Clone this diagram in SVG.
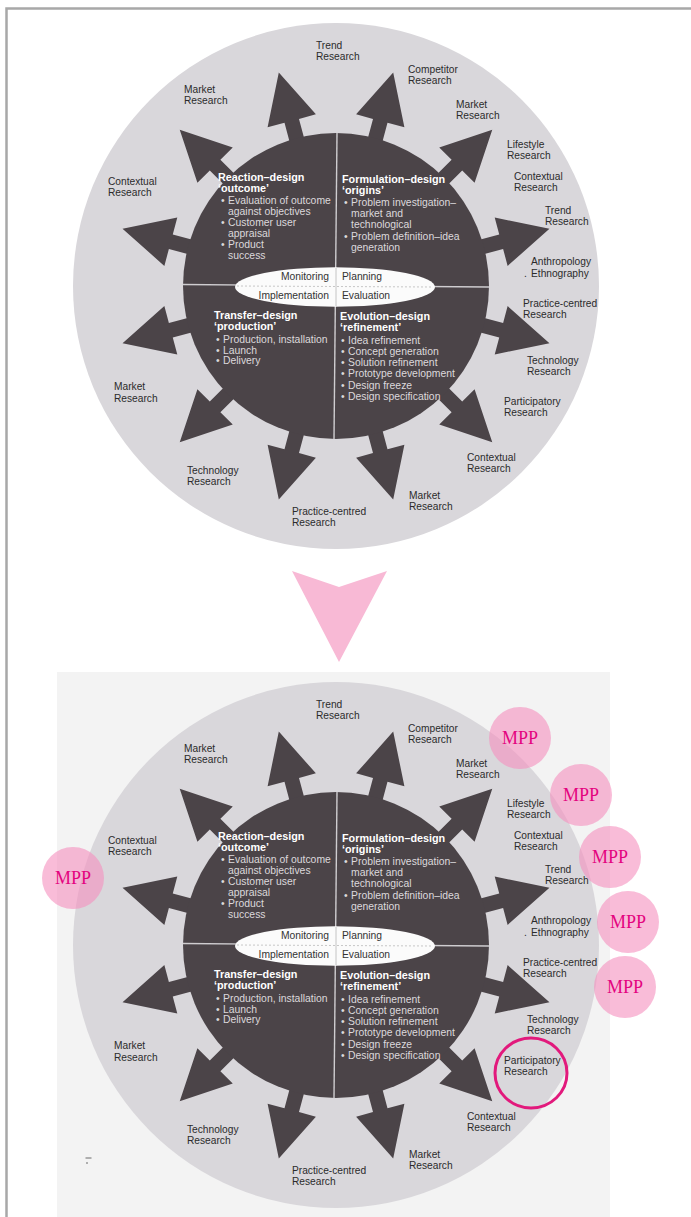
<svg xmlns="http://www.w3.org/2000/svg" xmlns:xlink="http://www.w3.org/1999/xlink" width="691" height="1217" viewBox="0 0 691 1217">
  <style>
    .ring { fill: #d9d7db; }
    .disc { fill: #4b4448; }
    .div { stroke: #cfcdd0; stroke-width: 1.4; fill: none; }
    .lens { fill: #fbfbfb; }
    .lensline { stroke: #b9b9b9; stroke-width: 0.8; stroke-dasharray: 2 2; fill: none; }
    .ttl { font-family: "Liberation Sans", Arial, sans-serif; font-weight: bold; font-size: 10.8px; fill: #ffffff; }
    .bd { font-family: "Liberation Sans", Arial, sans-serif; font-size: 10.4px; fill: #dcd9dc; }
    .mid { font-family: "Liberation Sans", Arial, sans-serif; font-size: 10.3px; fill: #333333; }
    .lbl { font-family: "Liberation Sans", Arial, sans-serif; font-size: 10.2px; fill: #2b2b2b; }
    .mpp circle { fill: #f58fbe; fill-opacity: 0.6; }
    .mpp text { font-family: "Liberation Serif", "Times New Roman", serif; font-size: 18px; fill: #e4047f; text-anchor: middle; }
  </style>
  <defs>
    <!-- one radial arrow, pointing along +x from the wheel centre -->
    <path id="arrow" d="M138,-7.5 H171 V-25 L221,0 L171,25 V7.5 H138 Z" fill="#4b4448"/>
  </defs>

  <rect x="0" y="0" width="691" height="1217" fill="#ffffff"/>
  <g id="frame">
    <path d="M6.5,1217 V8.5 H691" fill="none" stroke="#a8a8a8" stroke-width="2.5"/>
  </g>

  <!-- ===================== upper wheel ===================== -->
  <g id="wheel-top">
    <circle class="ring" cx="336" cy="286" r="263"/>
    <g id="top-arrows">
      <use xlink:href="#arrow" transform="translate(336,286) rotate(-105)"/>
      <use xlink:href="#arrow" transform="translate(336,286) rotate(-135)"/>
      <use xlink:href="#arrow" transform="translate(336,286) rotate(-165)"/>
      <use xlink:href="#arrow" transform="translate(336,286) rotate(165)"/>
      <use xlink:href="#arrow" transform="translate(336,286) rotate(135)"/>
      <use xlink:href="#arrow" transform="translate(336,286) rotate(105)"/>
      <use xlink:href="#arrow" transform="translate(336,286) rotate(75)"/>
      <use xlink:href="#arrow" transform="translate(336,286) rotate(45)"/>
      <use xlink:href="#arrow" transform="translate(336,286) rotate(15)"/>
      <use xlink:href="#arrow" transform="translate(336,286) rotate(-15)"/>
      <use xlink:href="#arrow" transform="translate(336,286) rotate(-45)"/>
      <use xlink:href="#arrow" transform="translate(336,286) rotate(-75)"/>
    </g>
    <circle class="disc" cx="336" cy="286" r="153"/>
    <line class="div" x1="337" y1="133" x2="334" y2="439"/>
    <line class="div" x1="183" y1="284.5" x2="489" y2="287"/>
    <g id="top-hub">
      <ellipse class="lens" cx="335" cy="287" rx="100" ry="19.7"/>
      <line class="lensline" x1="237" y1="286" x2="433" y2="287"/>
      <line x1="336" y1="268" x2="336" y2="306" stroke="#c4c4c4" stroke-width="1"/>
      <text class="mid" x="329" y="280" text-anchor="end">Monitoring</text>
      <text class="mid" x="342" y="280">Planning</text>
      <text class="mid" x="329" y="298.5" text-anchor="end">Implementation</text>
      <text class="mid" x="342" y="298.5">Evaluation</text>
    </g>
    <g id="top-reaction">
      <text class="ttl" x="218" y="180.5">Reaction–design</text>
      <text class="ttl" x="218" y="192">‘outcome’</text>
      <text class="bd" x="221" y="204">•</text><text class="bd" x="228" y="204">Evaluation of outcome</text>
      <text class="bd" x="228" y="215">against objectives</text>
      <text class="bd" x="221" y="226">•</text><text class="bd" x="228" y="226">Customer user</text>
      <text class="bd" x="228" y="237">appraisal</text>
      <text class="bd" x="221" y="248">•</text><text class="bd" x="228" y="248">Product</text>
      <text class="bd" x="228" y="259">success</text>
    </g>
    <g id="top-formulation">
      <text class="ttl" x="342" y="183">Formulation–design</text>
      <text class="ttl" x="342" y="194">‘origins’</text>
      <text class="bd" x="344" y="206">•</text><text class="bd" x="351" y="206">Problem investigation–</text>
      <text class="bd" x="351" y="217">market and</text>
      <text class="bd" x="351" y="228">technological</text>
      <text class="bd" x="344" y="240">•</text><text class="bd" x="351" y="240">Problem definition–idea</text>
      <text class="bd" x="351" y="251">generation</text>
    </g>
    <g id="top-transfer">
      <text class="ttl" x="214" y="319">Transfer–design</text>
      <text class="ttl" x="214" y="330">‘production’</text>
      <text class="bd" x="216" y="343">•</text><text class="bd" x="223" y="343">Production, installation</text>
      <text class="bd" x="216" y="353.5">•</text><text class="bd" x="223" y="353.5">Launch</text>
      <text class="bd" x="216" y="364">•</text><text class="bd" x="223" y="364">Delivery</text>
    </g>
    <g id="top-evolution">
      <text class="ttl" x="340" y="320">Evolution–design</text>
      <text class="ttl" x="340" y="331">‘refinement’</text>
      <text class="bd" x="341" y="344">•</text><text class="bd" x="348" y="344">Idea refinement</text>
      <text class="bd" x="341" y="355">•</text><text class="bd" x="348" y="355">Concept generation</text>
      <text class="bd" x="341" y="366">•</text><text class="bd" x="348" y="366">Solution refinement</text>
      <text class="bd" x="341" y="377">•</text><text class="bd" x="348" y="377">Prototype development</text>
      <text class="bd" x="341" y="389">•</text><text class="bd" x="348" y="389">Design freeze</text>
      <text class="bd" x="341" y="400">•</text><text class="bd" x="348" y="400">Design specification</text>
    </g>
    <g id="top-labels" class="lbl">
      <text class="lbl" x="316" y="48.5">Trend<tspan x="316" dy="11">Research</tspan></text>
      <text class="lbl" x="408" y="72.5">Competitor<tspan x="408" dy="11">Research</tspan></text>
      <text class="lbl" x="456" y="107.5">Market<tspan x="456" dy="11">Research</tspan></text>
      <text class="lbl" x="507" y="147.5">Lifestyle<tspan x="507" dy="11">Research</tspan></text>
      <text class="lbl" x="514" y="180">Contextual<tspan x="514" dy="11">Research</tspan></text>
      <text class="lbl" x="545" y="213.5">Trend<tspan x="545" dy="11">Research</tspan></text>
      <text class="lbl" x="531" y="265">Anthropology<tspan x="524" dy="11.5">.</tspan><tspan x="531">Ethnography</tspan></text>
      <text class="lbl" x="523" y="306.5">Practice-centred<tspan x="523" dy="11">Research</tspan></text>
      <text class="lbl" x="527" y="364">Technology<tspan x="527" dy="11">Research</tspan></text>
      <text class="lbl" x="504" y="404.5">Participatory<tspan x="504" dy="11">Research</tspan></text>
      <text class="lbl" x="467" y="460.5">Contextual<tspan x="467" dy="11">Research</tspan></text>
      <text class="lbl" x="409" y="499">Market<tspan x="409" dy="11">Research</tspan></text>
      <text class="lbl" x="292" y="515">Practice-centred<tspan x="292" dy="11">Research</tspan></text>
      <text class="lbl" x="187" y="474">Technology<tspan x="187" dy="11">Research</tspan></text>
      <text class="lbl" x="114" y="390">Market<tspan x="114" dy="11.5">Research</tspan></text>
      <text class="lbl" x="108" y="184.5">Contextual<tspan x="108" dy="11">Research</tspan></text>
      <text class="lbl" x="184" y="92.5">Market<tspan x="184" dy="11.5">Research</tspan></text>
    </g>
  </g>

  <!-- transition arrow -->
  <g id="down-arrow">
    <polygon points="292,571 339,587 387,571 339,662" fill="#f8b9d5"/>
  </g>

  <!-- ===================== lower wheel ===================== -->
  <rect id="lower-page" x="57" y="672" width="553" height="545" fill="#f3f3f3"/>
  <g id="wheel-bottom">
    <circle class="ring" cx="336" cy="945" r="263"/>
    <g id="bottom-arrows">
      <use xlink:href="#arrow" transform="translate(336,945) rotate(-105)"/>
      <use xlink:href="#arrow" transform="translate(336,945) rotate(-135)"/>
      <use xlink:href="#arrow" transform="translate(336,945) rotate(-165)"/>
      <use xlink:href="#arrow" transform="translate(336,945) rotate(165)"/>
      <use xlink:href="#arrow" transform="translate(336,945) rotate(135)"/>
      <use xlink:href="#arrow" transform="translate(336,945) rotate(105)"/>
      <use xlink:href="#arrow" transform="translate(336,945) rotate(75)"/>
      <use xlink:href="#arrow" transform="translate(336,945) rotate(45)"/>
      <use xlink:href="#arrow" transform="translate(336,945) rotate(15)"/>
      <use xlink:href="#arrow" transform="translate(336,945) rotate(-15)"/>
      <use xlink:href="#arrow" transform="translate(336,945) rotate(-45)"/>
      <use xlink:href="#arrow" transform="translate(336,945) rotate(-75)"/>
    </g>
    <circle class="disc" cx="336" cy="945" r="153"/>
    <line class="div" x1="337" y1="792" x2="334" y2="1098"/>
    <line class="div" x1="183" y1="943.5" x2="489" y2="946"/>
    <g id="bottom-hub">
      <ellipse class="lens" cx="335" cy="946" rx="100" ry="19.7"/>
      <line class="lensline" x1="237" y1="945" x2="433" y2="946"/>
      <line x1="336" y1="927" x2="336" y2="965" stroke="#c4c4c4" stroke-width="1"/>
      <text class="mid" x="329" y="939" text-anchor="end">Monitoring</text>
      <text class="mid" x="342" y="939">Planning</text>
      <text class="mid" x="329" y="957.5" text-anchor="end">Implementation</text>
      <text class="mid" x="342" y="957.5">Evaluation</text>
    </g>
    <g id="bottom-reaction">
      <text class="ttl" x="218" y="839.5">Reaction–design</text>
      <text class="ttl" x="218" y="851">‘outcome’</text>
      <text class="bd" x="221" y="863">•</text><text class="bd" x="228" y="863">Evaluation of outcome</text>
      <text class="bd" x="228" y="874">against objectives</text>
      <text class="bd" x="221" y="885">•</text><text class="bd" x="228" y="885">Customer user</text>
      <text class="bd" x="228" y="896">appraisal</text>
      <text class="bd" x="221" y="907">•</text><text class="bd" x="228" y="907">Product</text>
      <text class="bd" x="228" y="918">success</text>
    </g>
    <g id="bottom-formulation">
      <text class="ttl" x="342" y="842">Formulation–design</text>
      <text class="ttl" x="342" y="853">‘origins’</text>
      <text class="bd" x="344" y="865">•</text><text class="bd" x="351" y="865">Problem investigation–</text>
      <text class="bd" x="351" y="876">market and</text>
      <text class="bd" x="351" y="887">technological</text>
      <text class="bd" x="344" y="899">•</text><text class="bd" x="351" y="899">Problem definition–idea</text>
      <text class="bd" x="351" y="910">generation</text>
    </g>
    <g id="bottom-transfer">
      <text class="ttl" x="214" y="978">Transfer–design</text>
      <text class="ttl" x="214" y="989">‘production’</text>
      <text class="bd" x="216" y="1002">•</text><text class="bd" x="223" y="1002">Production, installation</text>
      <text class="bd" x="216" y="1012.5">•</text><text class="bd" x="223" y="1012.5">Launch</text>
      <text class="bd" x="216" y="1023">•</text><text class="bd" x="223" y="1023">Delivery</text>
    </g>
    <g id="bottom-evolution">
      <text class="ttl" x="340" y="979">Evolution–design</text>
      <text class="ttl" x="340" y="990">‘refinement’</text>
      <text class="bd" x="341" y="1003">•</text><text class="bd" x="348" y="1003">Idea refinement</text>
      <text class="bd" x="341" y="1014">•</text><text class="bd" x="348" y="1014">Concept generation</text>
      <text class="bd" x="341" y="1025">•</text><text class="bd" x="348" y="1025">Solution refinement</text>
      <text class="bd" x="341" y="1036">•</text><text class="bd" x="348" y="1036">Prototype development</text>
      <text class="bd" x="341" y="1048">•</text><text class="bd" x="348" y="1048">Design freeze</text>
      <text class="bd" x="341" y="1059">•</text><text class="bd" x="348" y="1059">Design specification</text>
    </g>
    <g id="bottom-labels">
      <text class="lbl" x="316" y="707.5">Trend<tspan x="316" dy="11">Research</tspan></text>
      <text class="lbl" x="408" y="731.5">Competitor<tspan x="408" dy="11">Research</tspan></text>
      <text class="lbl" x="456" y="766.5">Market<tspan x="456" dy="11">Research</tspan></text>
      <text class="lbl" x="507" y="806.5">Lifestyle<tspan x="507" dy="11">Research</tspan></text>
      <text class="lbl" x="514" y="839">Contextual<tspan x="514" dy="11">Research</tspan></text>
      <text class="lbl" x="545" y="872.5">Trend<tspan x="545" dy="11">Research</tspan></text>
      <text class="lbl" x="531" y="924">Anthropology<tspan x="524" dy="11.5">.</tspan><tspan x="531">Ethnography</tspan></text>
      <text class="lbl" x="523" y="965.5">Practice-centred<tspan x="523" dy="11">Research</tspan></text>
      <text class="lbl" x="527" y="1023">Technology<tspan x="527" dy="11">Research</tspan></text>
      <text class="lbl" x="504" y="1063.5">Participatory<tspan x="504" dy="11">Research</tspan></text>
      <text class="lbl" x="467" y="1119.5">Contextual<tspan x="467" dy="11">Research</tspan></text>
      <text class="lbl" x="409" y="1158">Market<tspan x="409" dy="11">Research</tspan></text>
      <text class="lbl" x="292" y="1174">Practice-centred<tspan x="292" dy="11">Research</tspan></text>
      <text class="lbl" x="187" y="1133">Technology<tspan x="187" dy="11">Research</tspan></text>
      <text class="lbl" x="114" y="1049">Market<tspan x="114" dy="11.5">Research</tspan></text>
      <text class="lbl" x="108" y="843.5">Contextual<tspan x="108" dy="11">Research</tspan></text>
      <text class="lbl" x="184" y="751.5">Market<tspan x="184" dy="11.5">Research</tspan></text>
    </g>
    <!-- small print specks on the lower page -->
    <path d="M85.5,1158 h6 M86,1163 h2" stroke="#6a6a6a" stroke-width="1" fill="none"/>
  </g>

  <!-- MPP markers -->
  <g id="mpp-1" class="mpp"><circle cx="520" cy="738" r="31"/><text x="520" y="744">MPP</text></g>
  <g id="mpp-2" class="mpp"><circle cx="581" cy="795" r="31"/><text x="581" y="801">MPP</text></g>
  <g id="mpp-3" class="mpp"><circle cx="610" cy="857" r="31"/><text x="610" y="863">MPP</text></g>
  <g id="mpp-4" class="mpp"><circle cx="628" cy="922" r="31"/><text x="628" y="928">MPP</text></g>
  <g id="mpp-5" class="mpp"><circle cx="625" cy="987" r="31"/><text x="625" y="993">MPP</text></g>
  <g id="mpp-left" class="mpp"><circle cx="73" cy="878" r="31"/><text x="73" y="884">MPP</text></g>
  <g id="participatory-ring">
    <ellipse cx="531" cy="1073" rx="36" ry="35" fill="none" stroke="#e2197c" stroke-width="3"/>
  </g>
</svg>
